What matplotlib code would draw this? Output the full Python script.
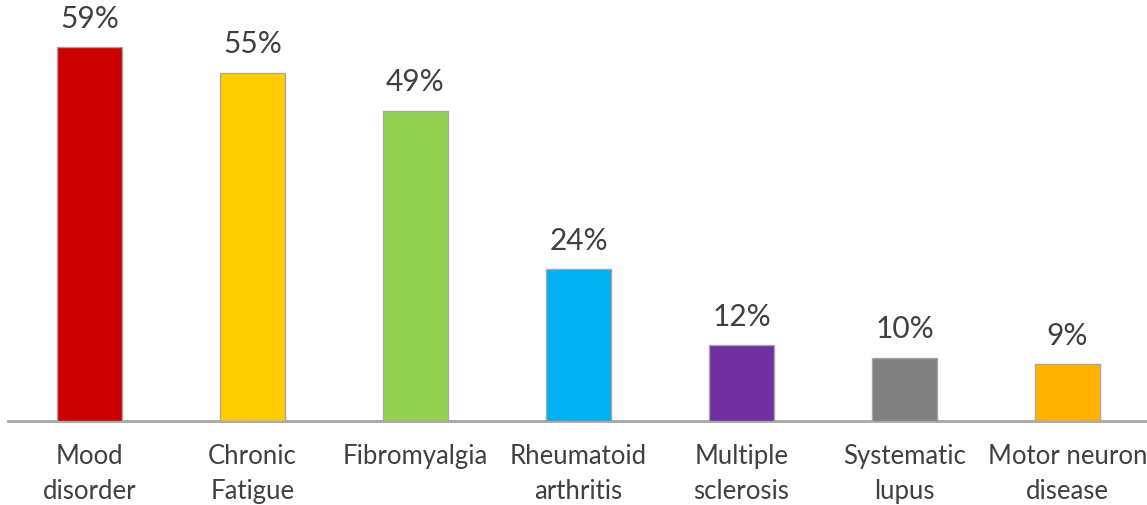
import matplotlib.pyplot as plt
import numpy as np

# Chart data
categories = ['Mood\ndisorder', 'Chronic\nFatigue', 'Fibromyalgia', 'Rheumatoid\narthritis',
              'Multiple\nsclerosis', 'Systematic\nlupus', 'Motor neuron\ndisease']
values = [59, 55, 49, 24, 12, 10, 9]
colors = ['#CC0000', '#FFCC00', '#92D050', '#00B0F0', '#7030A0', '#808080', '#FFB300']

plt.rcParams['font.family'] = ['Lato', 'DejaVu Sans']

fig = plt.figure(figsize=(11.47, 5.06), dpi=100)
ax = fig.add_axes([8/1147, 84/506, 1141/1147, 422/506])

x = np.arange(len(values))
bars = ax.bar(x, values, width=0.4, color=colors, edgecolor='#A6A6A6', linewidth=1, zorder=3)

for xi, v in zip(x, values):
    ax.annotate(f'{v}%', (xi, v), xytext=(0, 11), textcoords='offset points',
                ha='center', va='bottom', fontsize=21.5, color='#404040')

ax.set_xlim(-0.5, len(values) - 0.5)
ax.set_ylim(0, 66.6)
ax.set_xticks(x)
ax.set_xticklabels(categories, fontsize=18.5, color='#404040', linespacing=1.5)
ax.tick_params(axis='x', length=0, pad=16)
ax.set_yticks([])
for s in ['top', 'right', 'left']:
    ax.spines[s].set_visible(False)
ax.spines['bottom'].set_color('#A6A6A6')
ax.spines['bottom'].set_linewidth(2)

plt.savefig('out.png', dpi=100)
